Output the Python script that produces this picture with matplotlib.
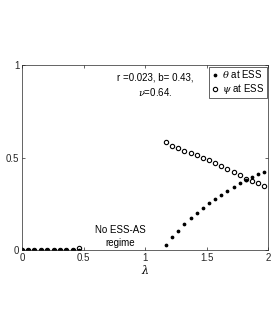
import numpy as np
import matplotlib.pyplot as plt

plt.rcParams["font.family"] = ["Liberation Sans", "DejaVu Sans"]
plt.rcParams["mathtext.fontset"] = "dejavuserif"

# low-lambda branch (both at zero)
lam_low = [0.0, 0.05, 0.10, 0.15, 0.20, 0.26, 0.31, 0.36, 0.41, 0.46]
theta_low = [0, 0, 0, 0, 0, 0, 0, 0, 0, 0]
psi_low = [0, 0, 0, 0, 0, 0, 0, 0, 0, 0.012]

# high-lambda branch
lam_high = [1.17, 1.22, 1.27, 1.32, 1.37, 1.42, 1.47, 1.52, 1.57,
            1.62, 1.67, 1.72, 1.77, 1.82, 1.87, 1.92, 1.97]
theta_high = [0.029, 0.068, 0.104, 0.140, 0.171, 0.202, 0.227, 0.252, 0.278,
              0.299, 0.321, 0.342, 0.360, 0.377, 0.395, 0.410, 0.423]
psi_high = [0.582, 0.565, 0.551, 0.538, 0.525, 0.512, 0.498, 0.484, 0.469,
            0.455, 0.440, 0.424, 0.405, 0.385, 0.372, 0.360, 0.348]

fig = plt.figure(figsize=(2.73, 3.27), dpi=100)
ax = fig.add_axes([0.081, 0.2355, 0.9007, 0.5655])

ax.plot(lam_low + lam_high, theta_low + theta_high, linestyle="none",
        marker="o", markersize=1.7, color="black", label=r"$\theta$ at ESS")
ax.plot(lam_low + lam_high, psi_low + psi_high, linestyle="none",
        marker="o", markersize=3.1, markerfacecolor="none",
        markeredgecolor="black", markeredgewidth=0.8, label=r"$\psi$ at ESS")

ax.text(1.08, 0.935, "r =0.023, b= 0.43,", fontsize=7, ha="center", va="center")
ax.text(1.08, 0.855, r"$\nu$=0.64.", fontsize=7, ha="center", va="center")
ax.text(0.80, 0.108, "No ESS-AS", fontsize=7, ha="center", va="center")
ax.text(0.80, 0.038, "regime", fontsize=7, ha="center", va="center")

ax.set_xlim(0, 2)
ax.set_ylim(0, 1)
ax.set_xticks([0, 0.5, 1, 1.5, 2])
ax.set_xticklabels(["0", "0.5", "1", "1.5", "2"])
ax.set_yticks([0, 0.5, 1])
ax.set_yticklabels(["0", "0.5", "1"])
ax.tick_params(direction="in", top=True, right=True, labelsize=7,
               length=2.5, width=0.5, colors="#262626", pad=2)
for s in ax.spines.values():
    s.set_linewidth(0.5)
    s.set_color("#262626")
ax.set_xlabel(r"$\lambda$", fontsize=8, labelpad=0)

leg = ax.legend(loc="upper right", fontsize=7, frameon=True, fancybox=False,
                handlelength=0.8, handletextpad=0.4, borderpad=0.2,
                labelspacing=0.2, borderaxespad=0.15, edgecolor="#262626",
                framealpha=1)
leg.get_frame().set_linewidth(0.5)

fig.savefig("out.png", dpi=100)
